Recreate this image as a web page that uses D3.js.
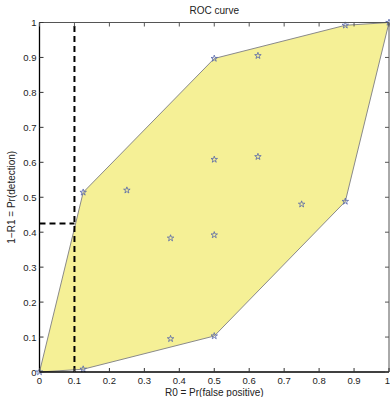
<!DOCTYPE html>
<html><head><meta charset="utf-8">
<script src="https://cdn.jsdelivr.net/npm/d3@7"></script>
<style>body{margin:0;background:#fff}svg{display:block}text{font-family:"Liberation Sans",Arial,sans-serif}</style>
</head><body>
<svg id="c" width="390" height="397"></svg>
<script>
const pointsX = [0, 0.125, 0.375, 0.5, 0.125, 0.25, 0.375, 0.5, 0.625, 0.75, 0.875, 0.5, 0.5, 0.625, 0.875, 1];
const pointsY = [0, 0.008, 0.095, 0.103, 0.514, 0.52, 0.383, 0.608, 0.616, 0.48, 0.488, 0.392, 0.897, 0.905, 0.992, 1];
const hullX = [0, 0.125, 0.5, 0.875, 1, 0.875, 0.5, 0.125];
const hullY = [0, 0.008, 0.103, 0.488, 1, 0.992, 0.897, 0.514];
const dashV = {x: 0.1, y0: 0, y1: 1};
const dashH = {y: 0.425, x0: 0, x1: 0.1};
const ticks = [0,0.1,0.2,0.3,0.4,0.5,0.6,0.7,0.8,0.9,1];
const tickLabels = ["0","0.1","0.2","0.3","0.4","0.5","0.6","0.7","0.8","0.9","1"];

const svg = d3.select("#c");
const L=39.5, R=389, T=22.5, B=372;
const x = d3.scaleLinear().domain([0,1]).range([L,R]);
const y = d3.scaleLinear().domain([0,1]).range([B,T]);

svg.append("path")
  .attr("d", d3.line().x(i=>x(hullX[i])).y(i=>y(hullY[i]))(d3.range(hullX.length)) + "Z")
  .attr("fill","#f5f096").attr("stroke","#8a8a8a").attr("stroke-width",1);

svg.append("line").attr("x1",x(dashV.x)).attr("x2",x(dashV.x)).attr("y1",y(dashV.y0)).attr("y2",y(dashV.y1))
  .attr("stroke","#000").attr("stroke-width",2).attr("stroke-dasharray","6,4");
svg.append("line").attr("x1",x(dashH.x0)).attr("x2",x(dashH.x1)).attr("y1",y(dashH.y)).attr("y2",y(dashH.y))
  .attr("stroke","#000").attr("stroke-width",2).attr("stroke-dasharray","6,4");

const star = d3.symbol().type(d3.symbolStar).size(13);
svg.selectAll("path.star").data(d3.range(pointsX.length)).join("path")
  .attr("class","star").attr("d",star)
  .attr("transform",i=>`translate(${x(pointsX[i])},${y(pointsY[i])})`)
  .attr("fill","none").attr("stroke","#5566aa").attr("stroke-width",0.8);

const tl = 4;
svg.append("line").attr("x1",L).attr("x2",R).attr("y1",T).attr("y2",T).attr("stroke","#555");
svg.append("line").attr("x1",R).attr("x2",R).attr("y1",T).attr("y2",B).attr("stroke","#555");
svg.append("line").attr("x1",L).attr("x2",R).attr("y1",B).attr("y2",B).attr("stroke","#000").attr("stroke-width",1.3);
svg.append("line").attr("x1",L).attr("x2",L).attr("y1",T).attr("y2",B).attr("stroke","#000").attr("stroke-width",1.3);

const g = svg.append("g");
ticks.forEach((t,i)=>{
  const xp = x(t), yp = y(t);
  g.append("line").attr("x1",xp).attr("x2",xp).attr("y1",B).attr("y2",B-tl).attr("stroke","#333");
  g.append("line").attr("x1",xp).attr("x2",xp).attr("y1",T).attr("y2",T+tl).attr("stroke","#555");
  g.append("line").attr("x1",L).attr("x2",L+tl).attr("y1",yp).attr("y2",yp).attr("stroke","#333");
  g.append("line").attr("x1",R).attr("x2",R-tl).attr("y1",yp).attr("y2",yp).attr("stroke","#555");
  g.append("text").attr("x",xp).attr("y",B+11.5).attr("text-anchor", i===ticks.length-1 ? "end" : "middle")
    .attr("dx", i===ticks.length-1 ? 1 : 0)
    .attr("font-size",9.5).attr("fill","#222").text(tickLabels[i]);
  g.append("text").attr("x",L-3).attr("y",yp+3.5).attr("text-anchor","end").attr("font-size",9.5).attr("fill","#222").text(tickLabels[i]);
});

svg.append("text").attr("x",(L+R)/2).attr("y",14).attr("text-anchor","middle").attr("font-size",10).attr("fill","#222").text("ROC curve");
svg.append("text").attr("x",(L+R)/2).attr("y",395.5).attr("text-anchor","middle").attr("font-size",10).attr("fill","#222").text("R0 = Pr(false positive)");
svg.append("text").attr("transform",`translate(15,${(T+B)/2}) rotate(-90)`).attr("text-anchor","middle").attr("font-size",10).attr("fill","#222").text("1−R1 = Pr(detection)");
</script>
</body></html>
